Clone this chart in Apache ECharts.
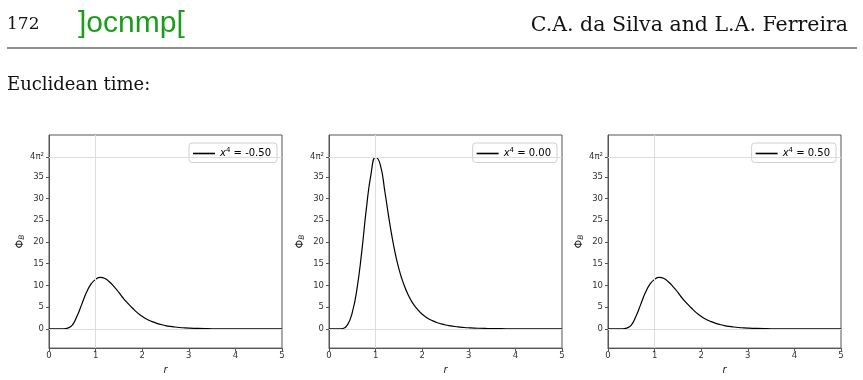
<!DOCTYPE html>
<html>
<head>
<meta charset="utf-8">
<script src="https://cdn.jsdelivr.net/npm/echarts@6/dist/echarts.min.js"></script>
<style>
  html, body { margin: 0; padding: 0; background: #fff; }
  #main { width: 863px; height: 380px; }
</style>
</head>
<body>
<div id="main"></div>
<script>
// 数据：r 取样点，以及三个 x4 取值下的 Phi_B
var rValues = [0, 0.1, 0.2, 0.3, 0.4, 0.5, 0.6, 0.7, 0.8, 0.9, 1.0, 1.1, 1.2, 1.3, 1.4, 1.5, 1.6, 1.7, 1.8, 1.9,
  2.0, 2.1, 2.2, 2.3, 2.4, 2.5, 2.6, 2.7, 2.8, 2.9, 3.0, 3.2, 3.4, 3.6, 3.8, 4.0, 4.5, 5.0];
var phiNeg = [0, 0, 0, 0.02, 0.2, 0.9, 2.9, 5.6, 8.3, 10.3, 11.4, 11.85, 11.6, 10.8, 9.7, 8.4, 7.0, 5.8, 4.7, 3.7,
  2.9, 2.25, 1.75, 1.35, 1.03, 0.78, 0.59, 0.45, 0.34, 0.26, 0.2, 0.12, 0.07, 0.04, 0.03, 0.02, 0.01, 0];
var phiZero = [0, 0, 0, 0.1, 1.0, 3.8, 9.2, 17.5, 27.5, 35.5, 39.48, 37.8, 31.5, 24.5, 18.5, 13.8, 10.4, 7.8, 5.9, 4.5,
  3.4, 2.6, 2.0, 1.55, 1.2, 0.92, 0.72, 0.56, 0.44, 0.34, 0.27, 0.17, 0.11, 0.07, 0.05, 0.03, 0.01, 0];
var phiPos = [0, 0, 0, 0.02, 0.2, 0.9, 2.9, 5.6, 8.3, 10.3, 11.4, 11.85, 11.6, 10.8, 9.7, 8.4, 7.0, 5.8, 4.7, 3.7,
  2.9, 2.25, 1.75, 1.35, 1.03, 0.78, 0.59, 0.45, 0.34, 0.26, 0.2, 0.12, 0.07, 0.04, 0.03, 0.02, 0.01, 0];
var x4Labels = ['-0.50', '0.00', '0.50'];
var xTicks = [0, 1, 2, 3, 4, 5];
var fourPiSq = 4 * Math.PI * Math.PI;
var yTicks = [0, 5, 10, 15, 20, 25, 30, 35, fourPiSq];

var myChart = echarts.init(document.getElementById('main'));

var allSeries = [phiNeg, phiZero, phiPos];
var gridLefts = [49, 329, 608];
var legendRights = [586, 306, 27];
var tickFont = { fontSize: 8.5, color: '#333', fontFamily: 'DejaVu Sans' };

var grids = [], xAxes = [], yAxes = [], series = [], legends = [];

for (var i = 0; i < 3; i++) {
  grids.push({
    left: gridLefts[i], top: 135, width: 233, height: 214,
    show: true, borderColor: '#555', borderWidth: 1, backgroundColor: 'transparent'
  });
  xAxes.push({
    type: 'value', gridIndex: i, min: 0, max: 5, interval: 1,
    name: 'r', nameLocation: 'middle', nameGap: 13,
    nameTextStyle: { fontSize: 10, fontStyle: 'italic', color: '#222', fontFamily: 'DejaVu Sans' },
    axisLine: { show: true, onZero: false, lineStyle: { color: '#555' } },
    axisTick: { show: true, length: 3, lineStyle: { color: '#555' } },
    axisLabel: Object.assign({ margin: 3, formatter: function (v) { return xTicks.indexOf(v) >= 0 ? String(v) : ''; } }, tickFont),
    splitLine: { show: false }
  });
  yAxes.push({
    type: 'value', gridIndex: i, min: -4.4, max: 44.6,
    name: '{a|Φ}{b|B}', nameLocation: 'middle', nameGap: 18,
    nameTextStyle: {
      color: '#222', fontFamily: 'DejaVu Sans',
      rich: {
        a: { fontSize: 11, color: '#222', fontFamily: 'DejaVu Sans' },
        b: { fontSize: 7.5, fontStyle: 'italic', color: '#222', fontFamily: 'DejaVu Sans', padding: [5, 0, 0, 0] }
      }
    },
    axisLine: { show: true, onZero: false, lineStyle: { color: '#555' } },
    axisTick: { show: true, length: 3, customValues: yTicks, lineStyle: { color: '#555' } },
    axisLabel: Object.assign({
      margin: 5, customValues: yTicks,
      formatter: function (v) { return Math.abs(v - fourPiSq) < 1e-6 ? '4π²' : String(v); }
    }, tickFont),
    splitLine: { show: false }
  });
  // 网格线 (r = 1, Φ = 0, Φ = 4π²)
  series.push({
    type: 'line', xAxisIndex: i, yAxisIndex: i, data: [], z: 1, silent: true,
    markLine: {
      silent: true, symbol: ['none', 'none'], label: { show: false }, animation: false,
      lineStyle: { type: 'solid', color: '#dedede', width: 1 },
      data: [{ xAxis: 1 }, { yAxis: 0 }, { yAxis: fourPiSq }]
    }
  });
  var pts = rValues.map(function (r, k) { return [r, allSeries[i][k]]; });
  var sName = 'x4 = ' + x4Labels[i];
  series.push({
    name: sName, type: 'line', xAxisIndex: i, yAxisIndex: i, data: pts, z: 3,
    showSymbol: false, symbol: 'none', smooth: 0.5,
    lineStyle: { color: '#000', width: 1.2 }, itemStyle: { color: '#000' }, animation: false
  });
  legends.push({
    data: [{ name: sName, icon: 'rect' }], right: legendRights[i], top: 143,
    orient: 'vertical', itemWidth: 22, itemHeight: 1.6, itemGap: 4,
    padding: [4, 6, 4, 4], borderColor: '#d0d0d0', borderWidth: 1, borderRadius: 3,
    backgroundColor: '#fff',
    formatter: function (name) { return '{i|x}{s|4} = ' + name.split('= ')[1]; },
    textStyle: {
      fontSize: 10, color: '#000', fontFamily: 'DejaVu Sans',
      rich: {
        i: { fontSize: 10, fontStyle: 'italic', color: '#000', fontFamily: 'DejaVu Sans' },
        s: { fontSize: 7, color: '#000', fontFamily: 'DejaVu Sans', padding: [0, 0, 6, 0] }
      }
    }
  });
}

var option = {
  animation: false,
  grid: grids,
  xAxis: xAxes,
  yAxis: yAxes,
  legend: legends,
  series: series,
  graphic: [
    { type: 'text', left: 7, top: 16, style: { text: '172', font: '17px "DejaVu Serif"', fill: '#111' } },
    { type: 'text', left: 78, top: 9, style: { text: ']ocnmp[', font: '30px "Liberation Sans"', fill: '#1a9e1a' } },
    { type: 'text', right: 15, top: 15, style: { text: 'C.A. da Silva and L.A. Ferreira', font: '20.5px "DejaVu Serif"', fill: '#111' } },
    { type: 'line', shape: { x1: 7, y1: 48, x2: 857, y2: 48 }, style: { stroke: '#222', lineWidth: 1.2 } },
    { type: 'text', left: 7, top: 76, style: { text: 'Euclidean time:', font: '18px "DejaVu Serif"', fill: '#111' } }
  ]
};

myChart.setOption(option);
</script>
</body>
</html>
